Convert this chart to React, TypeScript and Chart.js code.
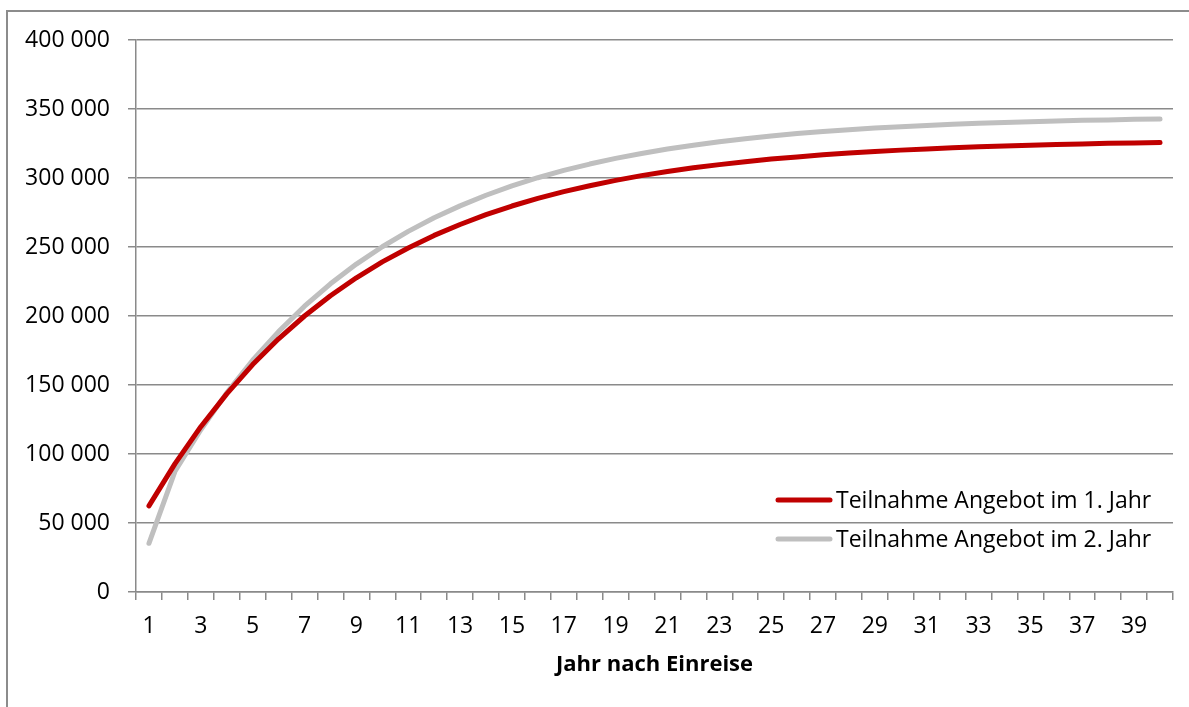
import React, { useEffect, useRef } from "react";
import { Chart, registerables } from "chart.js";

Chart.register(...registerables);

const years = [
  "1", "2", "3", "4", "5", "6", "7", "8", "9", "10",
  "11", "12", "13", "14", "15", "16", "17", "18", "19", "20",
  "21", "22", "23", "24", "25", "26", "27", "28", "29", "30",
  "31", "32", "33", "34", "35", "36", "37", "38", "39", "40",
];

const seriesLabels = ["Teilnahme Angebot im 1. Jahr", "Teilnahme Angebot im 2. Jahr"];

const firstYearOffer = [
  62400, 92800, 119800, 143600, 164800, 183500, 200000, 214700, 227700, 239200,
  249300, 258400, 266300, 273400, 279700, 285200, 290100, 294400, 298300, 301700,
  304700, 307400, 309700, 311800, 313700, 315300, 316800, 318100, 319200, 320200,
  321100, 321900, 322600, 323200, 323800, 324200, 324700, 325100, 325400, 325700,
];

const secondYearOffer = [
  35300, 87300, 117600, 144300, 167900, 188700, 207100, 223300, 237600, 250200,
  261300, 271200, 279800, 287500, 294300, 300200, 305500, 310100, 314200, 317800,
  321000, 323800, 326300, 328500, 330500, 332200, 333700, 335000, 336200, 337200,
  338100, 338900, 339700, 340300, 340800, 341300, 341800, 342100, 342500, 342800,
];

const seriesColors = ["#C00000", "#BFBFBF"];

const yAxisMin = 0;
const yAxisMax = 400000;
const yAxisStep = 50000;

const xAxisTitle = "Jahr nach Einreise";

const FONT = "'Open Sans', 'Noto Sans', sans-serif";

const formatThousands = (v: number) =>
  String(v).replace(/\B(?=(\d{3})+(?!\d))/g, " ");

const insideLegend = {
  id: "insideLegend",
  afterDraw(chart: any) {
    const { ctx, chartArea } = chart;
    ctx.save();
    chart.data.datasets.forEach((ds: any, i: number) => {
      const y = chartArea.bottom - 92 + i * 39;
      ctx.strokeStyle = ds.borderColor;
      ctx.lineWidth = 5;
      ctx.lineCap = "round";
      ctx.beginPath();
      ctx.moveTo(chartArea.right - 395, y);
      ctx.lineTo(chartArea.right - 343, y);
      ctx.stroke();
      ctx.fillStyle = "#000";
      ctx.font = `23px ${FONT}`;
      ctx.textAlign = "left";
      ctx.textBaseline = "middle";
      ctx.fillText(ds.label, chartArea.right - 337, y + 1);
    });
    ctx.restore();
  },
};

export default function App() {
  const canvasRef = useRef<HTMLCanvasElement | null>(null);

  useEffect(() => {
    if (!canvasRef.current) return;
    const chart = new Chart(canvasRef.current, {
      type: "line",
      data: {
        labels: years,
        datasets: [
          {
            label: seriesLabels[0],
            data: firstYearOffer,
            borderColor: seriesColors[0],
            backgroundColor: seriesColors[0],
            borderWidth: 5,
            borderCapStyle: "round",
            borderJoinStyle: "round",
            pointRadius: 0,
            tension: 0,
            fill: false,
          },
          {
            label: seriesLabels[1],
            data: secondYearOffer,
            borderColor: seriesColors[1],
            backgroundColor: seriesColors[1],
            borderWidth: 5,
            borderCapStyle: "round",
            borderJoinStyle: "round",
            pointRadius: 0,
            tension: 0,
            fill: false,
          },
        ],
      },
      options: {
        responsive: false,
        animation: false,
        devicePixelRatio: 1,
        layout: { padding: { left: 0, right: 16, top: 40, bottom: 0 } },
        plugins: {
          legend: { display: false },
          tooltip: { enabled: false },
        },
        scales: {
          x: {
            offset: true,
            grid: {
              offset: true,
              drawOnChartArea: false,
              drawTicks: true,
              tickLength: 8,
              color: "#8a8a8a",
              lineWidth: 1.5,
            },
            border: { color: "#8a8a8a", width: 1.5 },
            ticks: {
              autoSkip: false,
              maxRotation: 0,
              color: "#000",
              padding: 13,
              font: { family: FONT, size: 23 },
              callback: (_v: any, i: number) => (i % 2 === 0 ? years[i] : ""),
            },
            title: {
              display: true,
              text: xAxisTitle,
              color: "#000",
              font: { family: FONT, size: 22, weight: "bold" },
              padding: { top: 10, bottom: 29 },
            },
            afterFit: (scale: any) => {
              scale.height = 115;
            },
          },
          y: {
            min: yAxisMin,
            max: yAxisMax,
            grid: {
              color: "#8a8a8a",
              lineWidth: 1.5,
              drawTicks: true,
              tickLength: 8,
            },
            border: { color: "#8a8a8a", width: 1.5 },
            ticks: {
              stepSize: yAxisStep,
              color: "#000",
              padding: 18,
              font: { family: FONT, size: 23 },
              callback: (v: any) => formatThousands(Number(v)),
            },
            afterFit: (scale: any) => {
              scale.width = 136;
            },
          },
        },
      },
      plugins: [insideLegend],
    });
    return () => chart.destroy();
  }, []);

  return (
    <div style={{ position: "fixed", left: 0, top: 0, width: 1189, height: 707, background: "#fff", overflow: "hidden" }}>
      <div
        style={{
          position: "absolute",
          left: 6,
          top: 10,
          width: 1300,
          height: 800,
          border: "2px solid #8c8c8c",
          boxSizing: "border-box",
        }}
      />
      <canvas ref={canvasRef} width={1189} height={707} style={{ position: "absolute", left: 0, top: 0 }} />
    </div>
  );
}
